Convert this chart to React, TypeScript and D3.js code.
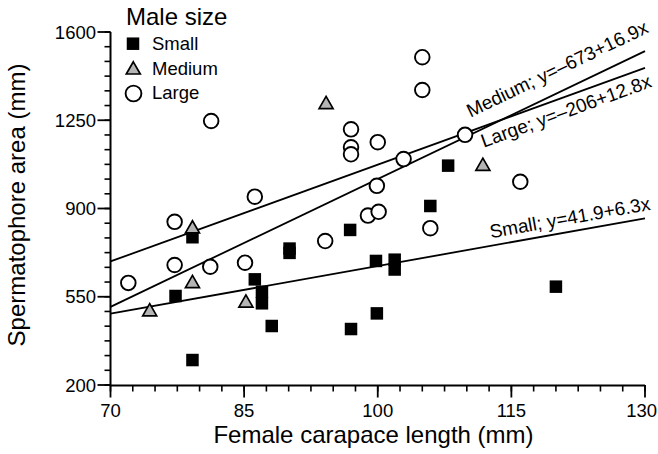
import React from "react";
import * as d3 from "d3";

// Female carapace length (mm) vs spermatophore area, by male size class
const smallPts: [number, number][] = [
  [77.3, 553], [79.2, 786], [79.2, 299], [86.2, 619], [87.0, 570], [87.0, 524],
  [88.1, 434], [90.1, 741], [90.1, 724], [96.9, 815], [97.0, 422], [99.8, 692],
  [99.9, 484], [101.9, 697], [101.9, 658], [105.9, 910], [107.9, 1070], [120.0, 590],
];
const mediumPts: [number, number][] = [
  [74.4, 498], [79.2, 827], [79.2, 610], [85.2, 533], [94.2, 1320], [111.8, 1075],
];
const largePts: [number, number][] = [
  [72.0, 605], [77.2, 847], [77.2, 676], [81.2, 669], [81.3, 1247], [86.2, 947],
  [85.1, 685], [94.1, 771], [97.0, 1214], [97.0, 1143], [97.0, 1115], [100.0, 1163],
  [99.9, 990], [98.9, 872], [100.1, 887], [102.9, 1096], [105.0, 1500], [105.0, 1370],
  [105.9, 822], [109.8, 1192], [116.0, 1006],
];

// Regression fits: intercept, slope
const fits = [
  { name: "Medium", a: -673, b: 16.9, label: "Medium; y=–673+16.9x", lx: 110.4, dy: -17 },
  { name: "Large", a: -206, b: 12.8, label: "Large; y=–206+12.8x", lx: 111.9, dy: 21.5 },
  { name: "Small", a: 41.9, b: 6.3, label: "Small; y=41.9+6.3x", lx: 112.7, dy: -7.5 },
];

const xTicks = [70, 85, 100, 115, 130];
const yTicks = [200, 550, 900, 1250, 1600];
const legendItems = ["Small", "Medium", "Large"];

const FONT = "'Liberation Sans', Arial, Helvetica, sans-serif";
const W = 658;
const H = 454;

const x = d3.scaleLinear().domain([70, 130]).range([110.5, 645]);
const y = d3.scaleLinear().domain([200, 1600]).range([385, 32]);

const xMinor = d3.range(70, 130.001, 2.5);
const yMinor = d3.range(0, 25).map((i) => 200 + (i * 350) / 6);

const SQ = 12.5;
const CR = 7.3;
const triPath = (cx: number, cy: number) =>
  `M${cx},${cy - 6.2}L${cx + 7},${cy + 6}L${cx - 7},${cy + 6}Z`;

const Square = ({ cx, cy }: { cx: number; cy: number }) => (
  <rect x={cx - SQ / 2} y={cy - SQ / 2} width={SQ} height={SQ} fill="#000" />
);
const Tri = ({ cx, cy }: { cx: number; cy: number }) => (
  <path d={triPath(cx, cy)} fill="#b5b5b5" stroke="#000" strokeWidth={1.7} strokeLinejoin="miter" />
);
const Circ = ({ cx, cy, r = CR }: { cx: number; cy: number; r?: number }) => (
  <circle cx={cx} cy={cy} r={r} fill="#fff" stroke="#000" strokeWidth={1.9} />
);

export default function App() {
  return (
    <svg
      width={W}
      height={H}
      viewBox={`0 0 ${W} ${H}`}
      style={{ position: "absolute", left: 0, top: 0, background: "#fff" }}
      fontFamily={FONT}
    >
      <rect width={W} height={H} fill="#fff" />

      {/* regression lines */}
      {fits.map((f) => {
        const x0 = 70;
        const x1 = 130;
        return (
          <line
            key={f.name}
            x1={x(x0)}
            y1={y(f.a + f.b * x0)}
            x2={x(x1)}
            y2={y(f.a + f.b * x1)}
            stroke="#000"
            strokeWidth={1.8}
          />
        );
      })}

      {/* fit labels, rotated along each line */}
      {fits.map((f) => {
        const ang =
          (Math.atan2(y(f.a + f.b * 130) - y(f.a + f.b * 70), x(130) - x(70)) * 180) / Math.PI;
        const px = x(f.lx);
        const py = y(f.a + f.b * f.lx) + f.dy;
        return (
          <text
            key={f.name + "-lbl"}
            transform={`translate(${px},${py}) rotate(${ang})`}
            fontSize={19}
            fill="#000"
          >
            {f.label}
          </text>
        );
      })}

      {/* points */}
      {smallPts.map((d, i) => (
        <Square key={"s" + i} cx={x(d[0])} cy={y(d[1])} />
      ))}
      {mediumPts.map((d, i) => (
        <Tri key={"m" + i} cx={x(d[0])} cy={y(d[1])} />
      ))}
      {largePts.map((d, i) => (
        <Circ key={"l" + i} cx={x(d[0])} cy={y(d[1])} />
      ))}

      {/* axes */}
      <line x1={x(70)} y1={y(200) + 0.5} x2={x(130)} y2={y(200) + 0.5} stroke="#000" strokeWidth={2} />
      <line x1={x(70)} y1={y(1600)} x2={x(70)} y2={y(200) + 1} stroke="#000" strokeWidth={2} />

      {xMinor.map((v) => (
        <line key={"xm" + v} x1={x(v)} x2={x(v)} y1={y(200)} y2={y(200) + 6.5} stroke="#000" strokeWidth={1.6} />
      ))}
      {xTicks.map((v, i) => {
        const last = i === xTicks.length - 1;
        return (
          <g key={"xt" + v}>
            <line x1={x(v)} x2={x(v)} y1={y(200)} y2={y(200) + 12.5} stroke="#000" strokeWidth={1.8} />
            <text
              x={last ? W - 1 : x(v)}
              y={416.5}
              textAnchor={last ? "end" : "middle"}
              fontSize={18.5}
            >
              {v}
            </text>
          </g>
        );
      })}

      {yMinor.map((v) => (
        <line key={"ym" + v} x1={x(70) - 6} x2={x(70)} y1={y(v)} y2={y(v)} stroke="#000" strokeWidth={1.6} />
      ))}
      {yTicks.map((v) => (
        <g key={"yt" + v}>
          <line x1={x(70) - 13} x2={x(70)} y1={y(v)} y2={y(v)} stroke="#000" strokeWidth={1.8} />
          <text x={96} y={y(v) + 6.5} textAnchor="end" fontSize={18.5}>
            {v}
          </text>
        </g>
      ))}

      {/* axis titles */}
      <text x={(215 + 532) / 2} y={443} textAnchor="middle" fontSize={24}>
        Female carapace length (mm)
      </text>
      <text transform="translate(25,205) rotate(-90)" textAnchor="middle" fontSize={24}>
        Spermatophore area (mm)
      </text>

      {/* legend */}
      <text x={126} y={25} fontSize={24}>
        Male size
      </text>
      {legendItems.map((name, i) => {
        const cy = [43.7, 68, 93.5][i];
        const by = [50, 75, 99.3][i];
        return (
          <g key={"lg" + name}>
            {i === 0 && <Square cx={133} cy={cy} />}
            {i === 1 && <Tri cx={133.3} cy={cy} />}
            {i === 2 && <Circ cx={133.5} cy={cy} r={7.9} />}
            <text x={152} y={by} fontSize={18.5}>
              {name}
            </text>
          </g>
        );
      })}
    </svg>
  );
}
